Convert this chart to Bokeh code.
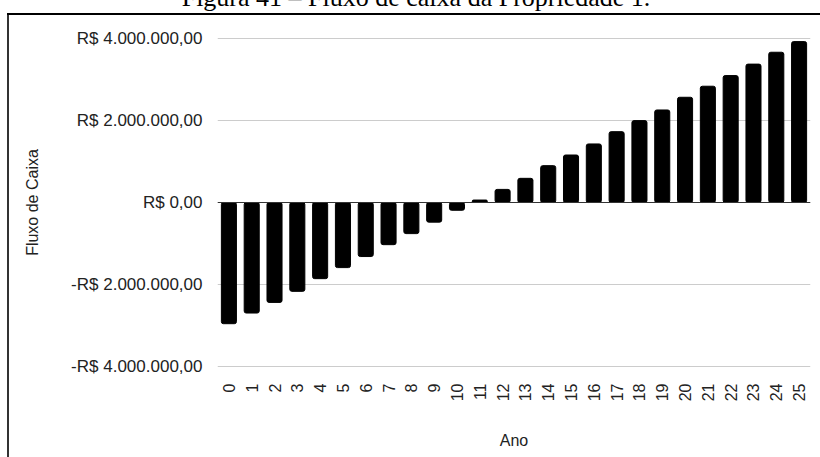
from math import pi
from bokeh.plotting import figure
from bokeh.layouts import column, row
from bokeh.models import Range1d, FactorRange, FixedTicker, Span, Div
from bokeh.embed import file_html
from bokeh.resources import INLINE

# ---- data ----
anos = ["0", "1", "2", "3", "4", "5", "6", "7", "8", "9", "10", "11", "12",
        "13", "14", "15", "16", "17", "18", "19", "20", "21", "22", "23", "24", "25"]
fluxo = [-2960000, -2700000, -2440000, -2170000, -1860000, -1590000, -1320000,
         -1030000, -760000, -480000, -190000, 60000, 320000, 590000, 900000,
         1160000, 1430000, 1730000, 2000000, 2260000, 2570000, 2840000, 3100000,
         3380000, 3670000, 3930000]
y_ticks = [-4000000, -2000000, 0, 2000000, 4000000]
y_tick_labels = ["-R$ 4.000.000,00", "-R$ 2.000.000,00", "R$ 0,00",
                 "R$ 2.000.000,00", "R$ 4.000.000,00"]
caption = "Figura 41 – Fluxo de caixa da Propriedade 1."
x_title = "Ano"
y_title = "Fluxo de Caixa"

FONT = "Liberation Sans"
TXT = "#222222"

p = figure(width=811, height=442,
           x_range=FactorRange(factors=anos, range_padding=0),
           y_range=Range1d(-4030000, 4030000),
           output_backend="svg", toolbar_location=None,
           min_border_left=208, min_border_right=10,
           min_border_top=22, min_border_bottom=90)
p.outline_line_color = None
p.background_fill_color = "white"
p.border_fill_color = "white"

p.vbar(x=anos, top=fluxo, bottom=0, width=0.66, fill_color="black",
       line_color="black", border_radius=2)

p.add_layout(Span(location=0, dimension="width", line_color="#333333", line_width=1))

p.xgrid.visible = False
p.ygrid.ticker = FixedTicker(ticks=y_ticks)
p.ygrid.grid_line_color = "#cccccc"
p.ygrid.grid_line_width = 1

p.yaxis.ticker = FixedTicker(ticks=y_ticks)
p.yaxis.major_label_overrides = {t: l for t, l in zip(y_ticks, y_tick_labels)}
for ax in (p.xaxis, p.yaxis):
    ax.axis_line_color = None
    ax.major_tick_line_color = None
    ax.minor_tick_line_color = None
    ax.major_label_text_font = FONT
    ax.major_label_text_color = TXT
    ax.axis_label_text_font = FONT
    ax.axis_label_text_font_size = "16px"
    ax.axis_label_text_font_style = "normal"
    ax.axis_label_text_color = TXT

p.yaxis.major_label_text_font_size = "17px"
p.xaxis.major_label_text_font_size = "16px"
p.yaxis.axis_label = y_title
p.yaxis.major_label_standoff = 9
p.yaxis.axis_label_standoff = 27
p.xaxis.axis_label = x_title
p.xaxis.major_label_orientation = pi / 2
p.xaxis.major_label_standoff = 10
p.xaxis.axis_label_standoff = 28

# page caption (cut at the top, as in the scanned page) and page frame lines
cap_html = ('<div style="position:relative;top:-15px;left:6px;width:820px;text-align:center;'
            'white-space:nowrap;font-family:\'Liberation Serif\';font-size:26px;'
            'line-height:26px;color:black;">' + caption + '</div>')
cap_div = Div(text=cap_html, width=820, height=13, margin=0,
              styles={"overflow": "hidden"})
top_line = Div(text="", width=813, height=2, margin=(0, 0, 0, 7),
               styles={"background-color": "black"})
left_line = Div(text="", width=2, height=442, margin=(0, 0, 0, 7),
                styles={"background-color": "#333333"})

layout = column(cap_div, top_line, row(left_line, p, spacing=0), spacing=0)

open("out.html", "w").write(file_html(layout, INLINE))
